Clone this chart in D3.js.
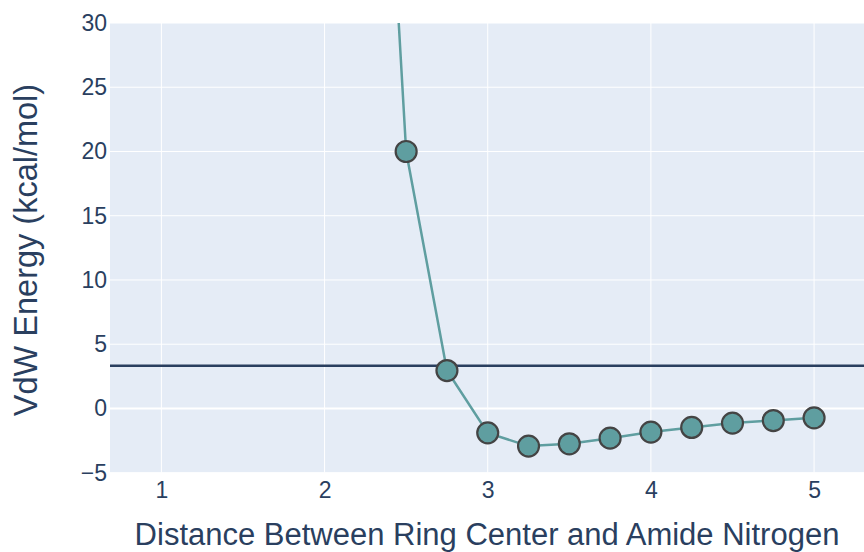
<!DOCTYPE html>
<html><head><meta charset="utf-8">
<script src="https://cdn.jsdelivr.net/npm/d3@7"></script>
<style>body{margin:0;background:#fff}svg{display:block}</style>
</head><body>
<svg id="chart" width="864" height="552"></svg>
<script>
const distances = [1, 1.25, 1.5, 1.75, 2, 2.25, 2.5, 2.75, 3, 3.25, 3.5, 3.75, 4, 4.25, 4.5, 4.75, 5];
const energies = [300000, 40000, 6000, 1200, 300, 75, 20, 2.95, -1.9, -2.93, -2.75, -2.31, -1.84, -1.48, -1.14, -0.94, -0.73];
const refLine = 3.33;
const xTicks = [1, 2, 3, 4, 5];
const yTicks = [-5, 0, 5, 10, 15, 20, 25, 30];
const xTitle = "Distance Between Ring Center and Amide Nitrogen";
const yTitle = "VdW Energy (kcal/mol)";

const W = 864, H = 552;
const m = {l: 110, r: 0, t: 23, b: 80};
const svg = d3.select("#chart");
const font = "'Liberation Sans', Arial, sans-serif";
const textColor = "#2a3f5f";

const x = d3.scaleLinear().domain([0.685, 5.306]).range([m.l, W - m.r]);
const y = d3.scaleLinear().domain([-5, 30]).range([H - m.b + 0.7, m.t]);

svg.append("rect").attr("x", m.l).attr("y", m.t)
  .attr("width", W - m.r - m.l).attr("height", y(-5) - m.t).attr("fill", "#E5ECF6");

svg.append("defs").append("clipPath").attr("id", "clip")
  .append("rect").attr("x", m.l).attr("y", m.t)
  .attr("width", W - m.r - m.l).attr("height", y(-5) - m.t);

// grid
const grid = svg.append("g");
grid.selectAll("line.vx").data(xTicks).join("line")
  .attr("x1", d => x(d)).attr("x2", d => x(d)).attr("y1", m.t).attr("y2", y(-5))
  .attr("stroke", "#fff").attr("stroke-width", 1);
grid.selectAll("line.hy").data(yTicks.filter(d => d !== 0)).join("line")
  .attr("class", "hy")
  .attr("x1", m.l).attr("x2", W - m.r).attr("y1", d => y(d)).attr("y2", d => y(d))
  .attr("stroke", "#fff").attr("stroke-width", 1);
grid.append("line").attr("x1", m.l).attr("x2", W - m.r).attr("y1", y(0)).attr("y2", y(0))
  .attr("stroke", "#fff").attr("stroke-width", 2);

// axes (tick labels only)
const xAxis = d3.axisBottom(x).tickValues(xTicks).tickSize(0).tickPadding(9).tickFormat(d3.format("d"));
const gx = svg.append("g").attr("transform", `translate(0,${y(-5)})`).call(xAxis);
const yAxis = d3.axisLeft(y).tickValues(yTicks).tickSize(0).tickPadding(3)
  .tickFormat(d => d < 0 ? "\u2212" + Math.abs(d) : d);
const gy = svg.append("g").attr("transform", `translate(${m.l},0)`).call(yAxis);
[gx, gy].forEach(g => {
  g.select(".domain").remove();
  g.selectAll("text").attr("font-family", font).attr("font-size", 23).attr("fill", textColor);
});

// reference line
svg.append("line").attr("x1", m.l).attr("x2", W - m.r)
  .attr("y1", y(refLine)).attr("y2", y(refLine))
  .attr("stroke", "#2a3f5f").attr("stroke-width", 2.5);

// series
const data = distances.map((d, i) => ({x: d, y: energies[i]}));
const plot = svg.append("g").attr("clip-path", "url(#clip)");
plot.append("path").datum(data)
  .attr("d", d3.line().x(d => x(d.x)).y(d => y(d.y)))
  .attr("fill", "none").attr("stroke", "#5F9EA0").attr("stroke-width", 2.5);
plot.selectAll("circle").data(data).join("circle")
  .attr("cx", d => x(d.x)).attr("cy", d => y(d.y)).attr("r", 10.5)
  .attr("fill", "#5F9EA0").attr("stroke", "#444").attr("stroke-width", 2.2);

// titles
svg.append("text").attr("x", 487).attr("y", 545)
  .attr("text-anchor", "middle").attr("font-family", font).attr("font-size", 31)
  .attr("fill", textColor).text(xTitle);
svg.append("text").attr("transform", `translate(37,250) rotate(-90)`)
  .attr("text-anchor", "middle").attr("font-family", font).attr("font-size", 32.5)
  .attr("fill", textColor).text(yTitle);
</script>
</body></html>
